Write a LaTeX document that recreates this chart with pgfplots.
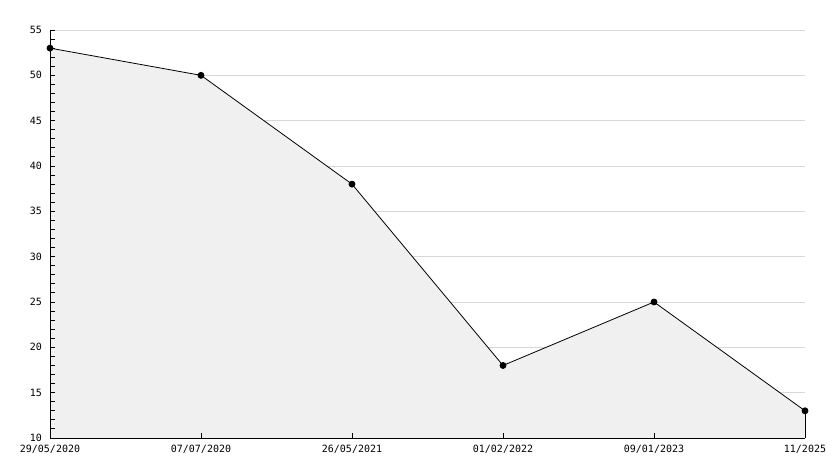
\documentclass[border=0pt]{standalone}
\usepackage{pgfplots}
\pgfplotsset{compat=1.18}
\usepackage{fontspec}
\setmainfont{DejaVu Sans Mono}
\definecolor{fillgray}{HTML}{F0F0F0}
\definecolor{gridgray}{HTML}{D8D8D8}
\pgfplotsset{base/.style={
  at={(50bp,30bp)}, anchor=south west,
  scale only axis, width=755bp, height=408bp,
  xmin=0, xmax=5, ymin=10, ymax=55, clip=false}}
\begin{document}
\begin{tikzpicture}
\useasboundingbox (0,0) rectangle (834bp,468bp);
% background: grid and fill
\begin{axis}[
  base,
  axis line style={draw=none},
  xtick=\empty,
  ytick={15,20,...,55},
  yticklabels={},
  tick style={draw=none},
  ymajorgrids,
  major grid style={gridgray, line width=0.9bp},
]
\addplot[fill=fillgray, draw=none] coordinates {
  (0,53) (1,50) (2,38) (3,18) (4,25) (5,13)
} \closedcycle;
\end{axis}
% foreground: axes, ticks, line
\begin{axis}[
  base,
  axis x line*=bottom, axis y line*=left,
  xtick pos=bottom, ytick pos=left,
  xtick align=inside, ytick align=inside,
  axis line style={-, black, line width=0.9bp},
  xtick={0,1,2,3,4,5},
  xticklabels={29/05/2020,07/07/2020,26/05/2021,01/02/2022,09/01/2023,11/2025},
  ytick={10,15,...,55},
  minor y tick num=4,
  major tick length=5bp, minor tick length=5bp,
  tick style={black, line width=0.9bp},
  /pgf/number format/assume math mode=true,
  ticklabel style={font=\fontsize{10bp}{12bp}\selectfont, inner sep=0pt},
  yticklabel style={anchor=east, xshift=-8bp},
  xticklabel style={anchor=north, yshift=-7bp},
]
\addplot[black, line width=0.8bp, mark=none] coordinates {(5,13) (5,10)};
\addplot[black, line width=0.8bp, mark=*, mark size=3bp, mark options={fill=black}] coordinates {
  (0,53) (1,50) (2,38) (3,18) (4,25) (5,13)
};
\end{axis}
\end{tikzpicture}
\end{document}
